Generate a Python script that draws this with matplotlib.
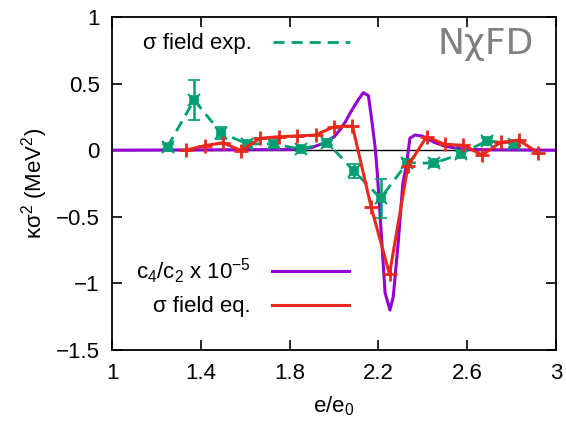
import matplotlib
matplotlib.use("Agg")
import matplotlib.pyplot as plt
from matplotlib.lines import Line2D

plt.rcParams['font.family'] = ['Liberation Sans', 'DejaVu Sans']
plt.rcParams['mathtext.fontset'] = 'custom'
plt.rcParams['mathtext.rm'] = 'Liberation Sans'
plt.rcParams['mathtext.it'] = 'Liberation Sans'
plt.rcParams['mathtext.default'] = 'rm'

# sigma field exp. (green, with error bars)
exp_x = [1.25, 1.37, 1.49, 1.61, 1.73, 1.85, 1.97, 2.09, 2.21, 2.33, 2.45, 2.57, 2.69, 2.81]
exp_y = [0.026, 0.377, 0.131, 0.047, 0.047, 0.007, 0.056, -0.156, -0.361, -0.094, -0.098, -0.029, 0.071, 0.047]
exp_err = [0.02, 0.15, 0.045, 0.02, 0.02, 0.015, 0.02, 0.05, 0.145, 0.03, 0.02, 0.02, 0.02, 0.02]

# sigma field eq. (red)
eq_x = [1.333, 1.417, 1.5, 1.583, 1.667, 1.75, 1.833, 1.917, 2.0, 2.083, 2.167, 2.25,
        2.333, 2.417, 2.5, 2.583, 2.667, 2.75, 2.833, 2.917]
eq_y = [0.0, 0.034, 0.056, -0.004, 0.089, 0.101, 0.107, 0.114, 0.176, 0.182, -0.424, -0.93,
        -0.12, 0.101, 0.043, 0.037, -0.036, 0.058, 0.076, -0.018]

# c4/c2 x 1e-5 (purple)
c_x = [1.0, 1.8, 1.9, 1.952, 2.0, 2.027, 2.05, 2.08, 2.11, 2.132, 2.155, 2.17, 2.185, 2.195,
       2.21, 2.23, 2.252, 2.267, 2.29, 2.31, 2.327, 2.342, 2.365, 2.4, 2.45, 2.5, 2.553, 2.6, 3.0]
c_y = [0.0, 0.005, 0.02, 0.052, 0.1, 0.152, 0.21, 0.30, 0.38, 0.432, 0.41, 0.227, 0.026, -0.17,
       -0.55, -1.07, -1.2, -1.1, -0.68, -0.25, -0.1, 0.09, 0.114, 0.105, 0.06, 0.03, 0.014, 0.005, 0.0]

xticks = [1, 1.4, 1.8, 2.2, 2.6, 3]
xticklabels = ['1', '1.4', '1.8', '2.2', '2.6', '3']
yticks = [-1.5, -1, -0.5, 0, 0.5, 1]
yticklabels = ['\u22121.5', '\u22121', '\u22120.5', '0', '0.5', '1']

GREEN = '#009e73'
PURPLE = '#9400d3'
RED = '#e8281a'

fig = plt.figure(figsize=(5.66, 4.23), dpi=100)
ax = fig.add_axes([112/566, 1-350/423, 444/566, 333/423])

ax.axhline(0, color='black', lw=1.0, zorder=1)
ax.plot(c_x, c_y, color=PURPLE, lw=2.2, zorder=2)
ax.errorbar(exp_x, exp_y, yerr=exp_err, color=GREEN, lw=2.0, ls=(0, (4, 2.5)),
            marker='s', ms=6, mew=1.2, capsize=4, capthick=1.8, elinewidth=1.8, zorder=3)
ax.plot(exp_x, exp_y, ls='none', marker='x', ms=8, mew=1.5, color=GREEN, zorder=3)
ax.plot(eq_x, eq_y, color=RED, lw=2.2, marker='+', ms=10, mew=2.0, zorder=4)

ax.set_xlim(1, 3)
ax.set_ylim(-1.5, 1)
ax.set_xticks(xticks)
ax.set_xticklabels(xticklabels)
ax.set_yticks(yticks)
ax.set_yticklabels(yticklabels)
ax.tick_params(direction='in', top=True, right=True, length=7, width=1.2, labelsize=16, pad=9)
for s in ax.spines.values():
    s.set_linewidth(1.3)

ax.set_xlabel('e/e$_0$', fontsize=16, labelpad=8)
ax.set_ylabel('\u03ba\u03c3$^2$ (MeV$^2$)', fontsize=16, labelpad=4)

h1 = [Line2D([], [], color=GREEN, lw=2.0, ls=(0, (4, 2.5)))]
leg1 = ax.legend(h1, ['\u03c3 field exp.'], loc='center', bbox_to_anchor=(0.302, 0.919),
                 frameon=False, markerfirst=False, fontsize=16, handlelength=3.47,
                 handletextpad=0.95, borderpad=0, borderaxespad=0)
ax.add_artist(leg1)
h2 = [Line2D([], [], color=PURPLE, lw=2.2), Line2D([], [], color=RED, lw=2.2)]
ax.legend(h2, ['c$_4$/c$_2$ x 10$^{\u22125}$', '\u03c3 field eq.'], loc='center',
          bbox_to_anchor=(0.293, 0.189), frameon=False, markerfirst=False, fontsize=16,
          handlelength=3.47, handletextpad=0.95, labelspacing=0.45, borderpad=0, borderaxespad=0)

ax.text(0.95, 0.92, 'N\u03c7FD', transform=ax.transAxes, ha='right', va='center',
        fontsize=26, color='#808080', family=['DejaVu Sans'])

fig.savefig('out.png', dpi=100)
